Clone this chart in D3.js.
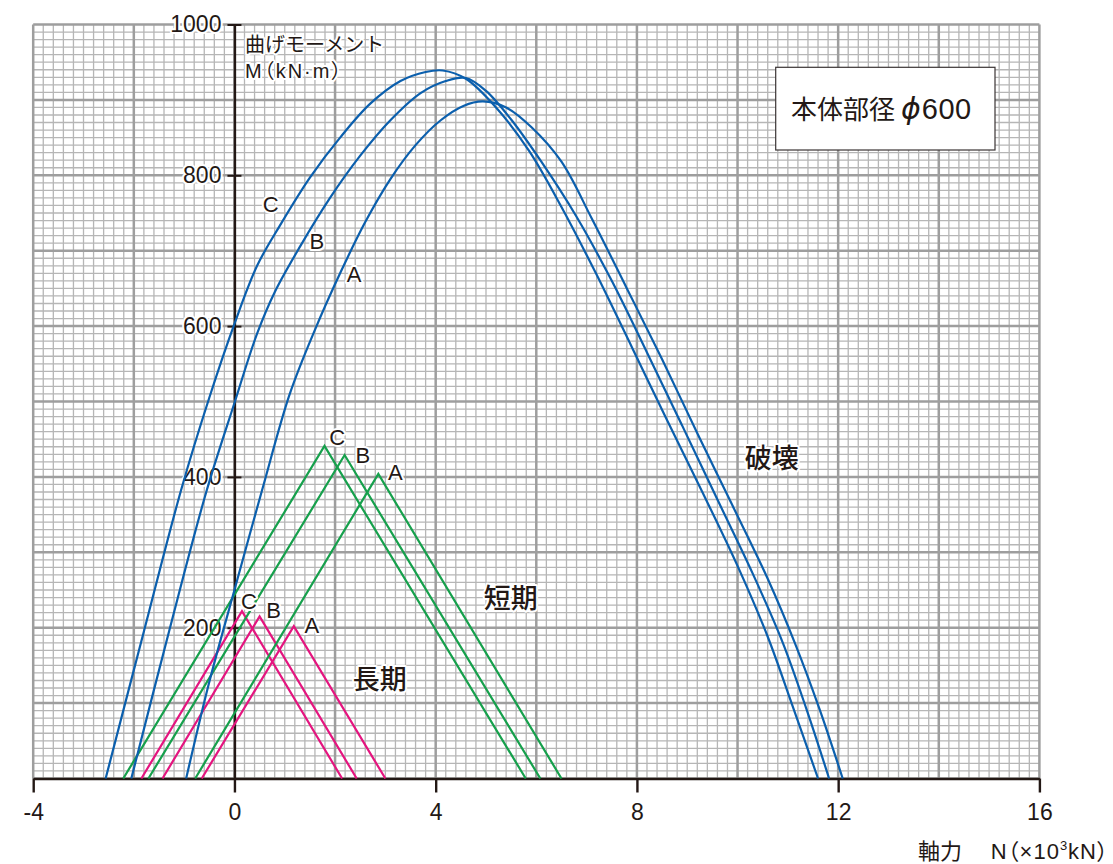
<!DOCTYPE html>
<html>
<head>
<meta charset="utf-8">
<script src="https://cdn.jsdelivr.net/npm/d3@7"></script>
<style>
  body { margin: 0; background: #fff; }
  svg { display: block; }
  text { font-family: "Liberation Sans", "Noto Sans CJK JP", sans-serif; fill: #231815; }
  .halo { paint-order: stroke; stroke: #fff; stroke-width: 4px; stroke-linejoin: round; }
</style>
</head>
<body>
<svg id="chart" width="1113" height="864"></svg>
<script>
// Axis extents and ticks: N in ×10^3 kN, M in kN·m
const xDomain = [-4, 16];
const yDomain = [0, 1000];
const xTickValues = [-4, 0, 4, 8, 12, 16];
const yTickValues = [200, 400, 600, 800, 1000];

// 破壊 (ultimate) interaction curves, points as [N, M]
const failureA = [[-0.96,0],[-0.5,128],[0,250],[0.56,385],[1.1,510],[1.6,595],[2.1,670],[2.6,738],[3.1,795],[3.6,840],[4.1,873],[4.55,892],[4.94,898],[5.4,890],[5.9,864],[6.5,818],[7.1,743],[7.8,650],[8.5,556],[9.2,458],[9.9,362],[10.6,265],[11.15,178],[11.63,92],[12.09,0]];
const failureB = [[-2.05,0],[-1.3,195],[-0.56,380],[0,498],[0.45,590],[0.8,645],[1.3,705],[1.9,770],[2.5,826],[3.1,873],[3.7,909],[4.2,925],[4.6,929],[5.0,912],[5.5,874],[6.1,818],[6.8,745],[7.5,660],[8.2,565],[8.9,468],[9.6,370],[10.3,272],[10.9,180],[11.37,92],[11.82,0]];
const failureC = [[-2.56,0],[-1.8,195],[-1.05,385],[-0.5,505],[0,603],[0.45,680],[0.9,733],[1.5,797],[2.1,850],[2.7,895],[3.3,925],[3.8,937],[4.14,939],[4.6,928],[5.2,890],[5.86,832],[6.5,758],[7.2,668],[7.9,572],[8.6,475],[9.3,380],[10.0,282],[10.6,188],[11.1,95],[11.6,0]];

// 短期 (short-term) allowable lines
const shortA = [[-0.78,0],[2.86,404],[6.5,0]];
const shortB = [[-1.71,0],[2.19,429],[6.08,0]];
const shortC = [[-2.21,0],[1.79,441],[5.79,0]];

// 長期 (long-term) allowable lines
const longA = [[-0.65,0],[1.18,202],[3.0,0]];
const longB = [[-1.43,0],[0.5,215],[2.43,0]];
const longC = [[-1.85,0],[0.15,222],[2.14,0]];

// Curve labels placed in data space: [text, N, M]
const failureLabels = [["C",0.72,761],["B",1.64,712],["A",2.38,668]];
const shortLabels = [["C",2.04,452],["B",2.55,428],["A",3.2,406]];
const longLabels = [["C",0.29,235],["B",0.78,223],["A",1.54,203]];
const regionLabels = [["破壊",10.68,424],["短期",5.49,238],["長期",2.89,130]];

const colors = { failure: "#0b5fad", short: "#16a04c", long: "#e4157f", ink: "#231815" };

const svg = d3.select("#chart");
const x = d3.scaleLinear().domain(xDomain).range([33.2, 1039.4]);
const y = d3.scaleLinear().domain(yDomain).range([778.5, 24.5]);

// graph-paper grid: minor every 0.2 / 10, major every 2 / 100
const grid = svg.append("g");
const vLines = d3.range(0, 101).map(i => ({ v: xDomain[0] + i * 0.2, major: i % 10 === 0 }));
const hLines = d3.range(0, 101).map(i => ({ v: i * 10, major: i % 10 === 0 }));
["minor", "major"].forEach(kind => {
  const isMajor = kind === "major";
  const stroke = isMajor ? "#9e9e9e" : "#b6b6b6";
  const width = isMajor ? 2.5 : 1.3;
  grid.selectAll("line.v" + kind)
    .data(vLines.filter(d => d.major === isMajor))
    .join("line")
    .attr("x1", d => x(d.v)).attr("x2", d => x(d.v))
    .attr("y1", y(yDomain[0])).attr("y2", y(yDomain[1]))
    .attr("stroke", stroke).attr("stroke-width", width);
  grid.selectAll("line.h" + kind)
    .data(hLines.filter(d => d.major === isMajor))
    .join("line")
    .attr("y1", d => y(d.v)).attr("y2", d => y(d.v))
    .attr("x1", x(xDomain[0])).attr("x2", x(xDomain[1]))
    .attr("stroke", stroke).attr("stroke-width", width);
});

const plainFormat = d => String(d);

// x axis along M = 0
const xAxis = svg.append("g")
  .attr("transform", `translate(0,${y(0)})`)
  .call(d3.axisBottom(x).tickValues(xTickValues).tickFormat(plainFormat)
    .tickSize(14).tickSizeOuter(0).tickPadding(11));
xAxis.select(".domain").attr("stroke", colors.ink).attr("stroke-width", 2.4);
xAxis.selectAll(".tick line").attr("stroke", colors.ink).attr("stroke-width", 2.4);
xAxis.selectAll(".tick text")
  .attr("font-size", 23).attr("font-family", null).style("fill", colors.ink);

// y axis along N = 0
const yAxis = svg.append("g")
  .attr("transform", `translate(${x(0)},0)`)
  .call(d3.axisLeft(y).tickValues(yTickValues).tickFormat(plainFormat)
    .tickSize(7).tickSizeOuter(0).tickPadding(6));
yAxis.select(".domain").attr("stroke", colors.ink).attr("stroke-width", 2.4);
yAxis.selectAll(".tick line").attr("x1", 7).attr("x2", -7)
  .attr("stroke", colors.ink).attr("stroke-width", 2);
yAxis.selectAll(".tick text")
  .attr("font-size", 23).attr("font-family", null).attr("class", "halo")
  .style("fill", colors.ink);

// allowable lines and failure curves
const straight = d3.line().x(d => x(d[0])).y(d => y(d[1]));
const smooth = d3.line().x(d => x(d[0])).y(d => y(d[1])).curve(d3.curveCatmullRom.alpha(0.5));

const marks = svg.append("g").attr("fill", "none").attr("stroke-linejoin", "miter");
[longA, longB, longC].forEach(s => marks.append("path").attr("d", straight(s))
  .attr("stroke", colors.long).attr("stroke-width", 2.2));
[shortA, shortB, shortC].forEach(s => marks.append("path").attr("d", straight(s))
  .attr("stroke", colors.short).attr("stroke-width", 2.2));
[failureA, failureB, failureC].forEach(s => marks.append("path").attr("d", smooth(s))
  .attr("stroke", colors.failure).attr("stroke-width", 2.2));

// labels
const labels = svg.append("g");
function placeLabels(list, size) {
  labels.selectAll(null).data(list).join("text")
    .attr("class", "halo")
    .attr("x", d => x(d[1])).attr("y", d => y(d[2]))
    .attr("text-anchor", "middle").attr("dominant-baseline", "central")
    .attr("font-size", size)
    .text(d => d[0]);
}
placeLabels(failureLabels, 22);
placeLabels(shortLabels, 22);
placeLabels(longLabels, 22);
labels.selectAll(null).data(regionLabels).join("text")
  .attr("class", "halo")
  .attr("x", d => x(d[1])).attr("y", d => y(d[2]))
  .attr("text-anchor", "middle").attr("dominant-baseline", "central")
  .attr("font-size", 27).attr("font-family", "Noto Sans CJK JP").attr("font-weight", 500)
  .text(d => d[0]);

// y axis title
const yTitle = svg.append("g");
yTitle.append("text").attr("class", "halo").attr("x", 245).attr("y", 52)
  .attr("font-size", 20).attr("font-family", "Noto Sans CJK JP").text("曲げモーメント");
yTitle.append("text").attr("class", "halo").attr("x", 245).attr("y", 78)
  .attr("font-size", 20).attr("font-family", "Noto Sans CJK JP")
  .style("font-feature-settings", '"palt"').attr("letter-spacing", 2)
  .text("M（kN·m）");

// x axis title
svg.append("text").attr("x", 918).attr("y", 859)
  .attr("font-size", 22).attr("font-family", "Noto Sans CJK JP").text("軸力");
const xt = svg.append("text").attr("x", 1109).attr("y", 859).attr("text-anchor", "end")
  .attr("font-size", 22).attr("font-family", "Noto Sans CJK JP")
  .style("font-feature-settings", '"palt"').attr("letter-spacing", 1);
xt.append("tspan").text("N（×10");
xt.append("tspan").attr("font-size", 13).attr("dy", -9).text("3");
xt.append("tspan").attr("dy", 9).text("kN）");

// pile diameter box
const box = svg.append("g");
box.append("rect").attr("x", 775.7).attr("y", 67.3).attr("width", 219.3).attr("height", 82.7)
  .attr("fill", "#fff").attr("stroke", "#3b3535").attr("stroke-width", 1.2);
const bt = box.append("text").attr("x", 791).attr("y", 118.5);
bt.append("tspan").attr("font-family", "Noto Sans CJK JP").attr("font-size", 26).text("本体部径");
bt.append("tspan").attr("font-family", "DejaVu Sans").attr("font-style", "italic")
  .attr("font-size", 30).attr("dx", 6).text("ϕ");
bt.append("tspan").attr("font-size", 29).attr("dx", 1).attr("letter-spacing", 0.5).text("600");
</script>
</body>
</html>
